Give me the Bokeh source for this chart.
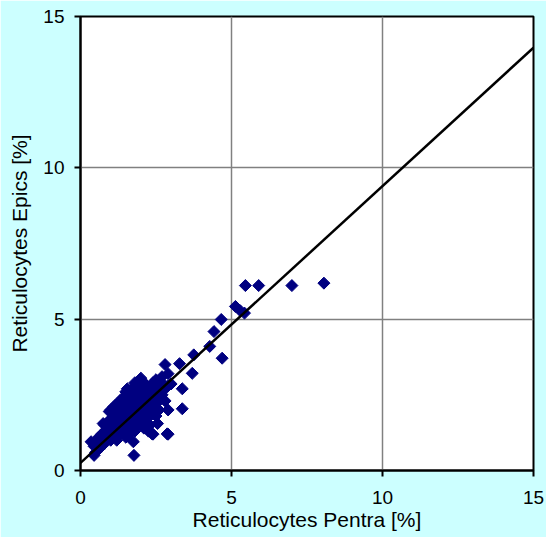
import math
from bokeh.plotting import figure
from bokeh.models import Range1d, FixedTicker
from bokeh.embed import file_html
from bokeh.resources import INLINE

# Reticulocytes Pentra [%] (x) and Epics [%] (y)
pentra = [
    0.45, 0.45, 0.5, 0.5, 0.6, 0.6, 0.6, 0.7, 0.7, 0.7,
    0.8, 0.8, 0.8, 0.8, 0.9, 0.9, 0.9, 0.9,
    1.0, 1.0, 1.0, 1.0, 1.0, 1.0,
    1.1, 1.1, 1.1, 1.1, 1.1,
    1.2, 1.2, 1.2, 1.2, 1.2,
    1.3, 1.3, 1.3, 1.3, 1.3, 1.3,
    1.4, 1.4, 1.4, 1.4, 1.4,
    1.5, 1.5, 1.5, 1.5, 1.5, 1.5,
    1.6, 1.6, 1.6, 1.6, 1.6, 1.6,
    1.7, 1.7, 1.7, 1.7, 1.7, 1.7,
    1.8, 1.8, 1.8, 1.8, 1.8, 1.8,
    1.9, 1.9, 1.9, 1.9, 1.9, 1.9,
    2.0, 2.0, 2.0, 2.0, 2.0, 2.0,
    2.1, 2.1, 2.1, 2.1, 2.1,
    2.2, 2.2, 2.2, 2.2, 2.2,
    2.3, 2.3, 2.3, 2.3,
    2.4, 2.4, 2.4, 2.4,
    2.5, 2.5, 2.5, 2.5,
    2.6, 2.6, 2.6,
    2.7, 2.7, 2.7,
    2.8, 2.8, 2.8,
    2.9, 2.9, 2.9, 2.9,
    0.35, 0.75, 0.95, 1.15, 1.55, 1.75, 2.25, 2.55,
    1.77, 2.37, 2.87, 3.0, 3.28, 3.37, 3.37, 3.7, 3.75, 4.28,
    4.42, 4.66, 4.69, 5.13, 5.28, 5.43, 5.46, 5.9, 7.0, 8.06,
]
epics = [
    0.5, 0.8, 0.95, 0.6, 0.7, 1.0, 1.1, 0.8, 1.2, 0.9,
    1.0, 1.3, 1.5, 0.9, 1.1, 1.4, 1.2, 1.6,
    1.0, 1.3, 1.5, 1.7, 2.0, 1.2,
    1.1, 1.4, 1.6, 1.9, 2.1,
    1.0, 1.3, 1.7, 1.8, 2.2,
    1.2, 1.5, 1.6, 2.0, 2.3, 1.9,
    1.3, 1.7, 2.1, 1.5, 2.4,
    1.4, 1.6, 1.9, 2.2, 1.1, 2.6,
    1.5, 1.8, 2.0, 2.3, 1.2, 2.5,
    1.6, 1.4, 2.1, 2.4, 2.7, 1.9,
    1.7, 2.0, 2.2, 2.5, 2.9, 1.3,
    1.8, 2.3, 2.6, 1.5, 2.1, 2.8,
    1.6, 2.0, 2.4, 2.7, 3.05, 1.9,
    1.8, 2.2, 2.5, 1.4, 2.9,
    1.7, 2.0, 2.6, 2.8, 2.3,
    1.9, 2.4, 2.7, 1.5,
    2.1, 2.5, 2.9, 1.2,
    2.2, 2.6, 3.0, 1.8,
    2.4, 2.8, 2.0,
    2.5, 3.1, 2.9,
    2.3, 3.5, 2.7,
    2.0, 2.8, 3.2, 1.2,
    0.95, 1.55, 1.95, 2.15, 2.7, 0.95, 1.3, 1.55,
    0.5, 1.21, 1.21, 2.86, 3.53, 2.7, 2.04, 3.21, 3.82, 4.1,
    4.59, 4.99, 3.71, 5.42, 5.29, 5.2, 6.11, 6.11, 6.11, 6.19,
]
# regression line end points
line_x = [0, 15]
line_y = [0.25, 13.97]
tick_values = [0, 5, 10, 15]
grid_values = [5, 10]

FONT = "Liberation Sans"

p = figure(width=546, height=537, output_backend="svg", toolbar_location=None,
           x_range=Range1d(0, 15), y_range=Range1d(0, 15),
           min_border_left=80, min_border_right=13, min_border_top=16,
           min_border_bottom=67)
p.background_fill_color = "white"
p.border_fill_color = "#CCFFFF"
p.outline_line_color = "black"
p.outline_line_width = 2

p.xgrid.ticker = FixedTicker(ticks=grid_values)
p.ygrid.ticker = FixedTicker(ticks=grid_values)
for g in (p.xgrid, p.ygrid):
    g.grid_line_color = "#808080"
    g.grid_line_width = 1.5

for ax in (p.xaxis, p.yaxis):
    ax.ticker = FixedTicker(ticks=tick_values)
    ax.axis_line_color = "black"
    ax.axis_line_width = 2
    ax.major_tick_line_color = "black"
    ax.major_tick_line_width = 2
    ax.major_tick_out = 6
    ax.major_tick_in = 0
    ax.minor_tick_line_color = None
    ax.major_label_text_font = FONT
    ax.major_label_text_font_size = "19px"
    ax.major_label_text_color = "black"
    ax.axis_label_text_font = FONT
    ax.axis_label_text_font_size = "21px"
    ax.axis_label_text_font_style = "normal"
    ax.axis_label_text_color = "black"

p.xaxis.axis_label = "Reticulocytes Pentra [%]"
p.yaxis.axis_label = "Reticulocytes Epics [%]"
p.xaxis.major_label_standoff = 14
p.yaxis.major_label_standoff = 10
p.xaxis.axis_label_standoff = 1
p.yaxis.axis_label_standoff = 9

p.scatter(pentra, epics, marker="square", size=8.5, angle=math.pi / 4,
          fill_color="#000080", line_color="#000080", line_width=1)
p.line(line_x, line_y, line_color="black", line_width=2.5)

open("out.html", "w").write(file_html(p, INLINE))
